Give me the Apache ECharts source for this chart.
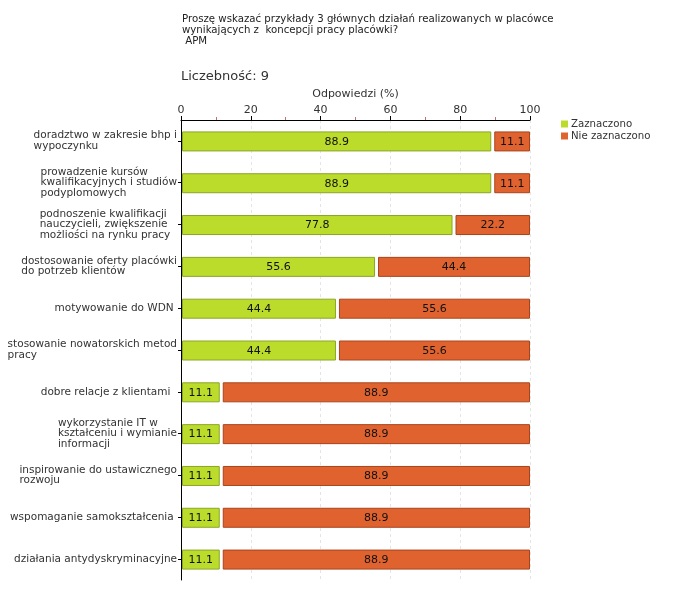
<!DOCTYPE html>
<html>
<head>
<meta charset="utf-8">
<script src="https://cdn.jsdelivr.net/npm/echarts@6/dist/echarts.min.js"></script>
<style>html,body{margin:0;padding:0;background:#fff}#c{width:680px;height:600px}</style>
</head>
<body>
<div id="c"></div>
<script>
const categories = [
  "doradztwo w zakresie bhp i\nwypoczynku",
  "prowadzenie kursów\nkwalifikacyjnych i studiów\npodyplomowych",
  "podnoszenie kwalifikacji\nnauczycieli, zwiększenie\nmożliości na rynku pracy  ",
  "dostosowanie oferty placówki\ndo potrzeb klientów",
  "motywowanie do WDN ",
  "stosowanie nowatorskich metod\npracy",
  "dobre relacje z klientami  ",
  "wykorzystanie IT w\nkształceniu i wymianie\ninformacji  ",
  "inspirowanie do ustawicznego\nrozwoju",
  "wspomaganie samokształcenia ",
  "działania antydyskryminacyjne"
];
const zaznaczono = [88.9, 88.9, 77.8, 55.6, 44.4, 44.4, 11.1, 11.1, 11.1, 11.1, 11.1];
const nieZaznaczono = [11.1, 11.1, 22.2, 44.4, 55.6, 55.6, 88.9, 88.9, 88.9, 88.9, 88.9];
const xTicks = [0, 20, 40, 60, 80, 100];

const FONT = '"DejaVu Sans", Verdana, sans-serif';
const chart = echarts.init(document.getElementById('c'));

function makeRender(fill, stroke, gapLeft) {
  return function (params, api) {
    const idx = api.value(0);
    const s = api.coord([api.value(1), idx]);
    const e = api.coord([api.value(2), idx]);
    const h = 19;
    const x0 = s[0] + gapLeft;
    const w = e[0] - x0;
    const y0 = s[1] - h / 2;
    return {
      type: 'group',
      children: [
        { type: 'rect', shape: { x: x0 + 0.5, y: y0 + 0.5, width: w - 1, height: h },
          style: { fill: fill, stroke: stroke, lineWidth: 1 } },
        { type: 'text', style: { text: api.value(3).toFixed(1), x: x0 + w / 2, y: s[1] + 1,
          align: 'center', verticalAlign: 'middle', font: '11px ' + FONT, fill: '#111' } }
      ]
    };
  };
}

const greenData = categories.map((c, i) => [i, 0, zaznaczono[i], zaznaczono[i]]);
const orangeData = categories.map((c, i) => [i, zaznaczono[i], zaznaczono[i] + nieZaznaczono[i], nieZaznaczono[i]]);

chart.setOption({
  animation: false,
  textStyle: { fontFamily: FONT },
  title: [
    { text: 'Proszę wskazać przykłady 3 głównych działań realizowanych w placówce\nwynikających z  koncepcji pracy placówki?\n APM',
      left: 182, top: 14, padding: 0,
      textStyle: { fontSize: 10.2, fontWeight: 'normal', color: '#222', lineHeight: 11, fontFamily: FONT } },
    { text: 'Liczebność: 9', left: 181, top: 70, padding: 0,
      textStyle: { fontSize: 13, fontWeight: 'normal', color: '#333', fontFamily: FONT } }
  ],
  legend: {
    orient: 'vertical', left: 561, top: 118, padding: 0, itemWidth: 7, itemHeight: 7, itemGap: 0,
    icon: 'rect',
    textStyle: { fontSize: 10.2, lineHeight: 12, color: '#333', fontFamily: FONT, padding: [0, 0, 0, -2] },
    data: ['Zaznaczono', 'Nie zaznaczono']
  },
  grid: { left: 181, right: 150, top: 120, bottom: 20, containLabel: false },
  xAxis: {
    type: 'value', position: 'top', min: 0, max: 100, interval: 20,
    name: 'Odpowiedzi (%)', nameLocation: 'middle', nameGap: 17,
    nameTextStyle: { fontSize: 11, color: '#333', fontFamily: FONT },
    axisLine: { show: true, lineStyle: { color: '#000', width: 1 } },
    axisTick: { show: true, length: 4, lineStyle: { color: '#000' } },
    minorTick: { show: true, splitNumber: 2, length: 3, lineStyle: { color: '#c87070' } },
    axisLabel: { fontSize: 11, color: '#333', margin: 4, fontFamily: FONT,
      customValues: xTicks },
    splitLine: { show: true, lineStyle: { color: '#e4e4e4', type: [3, 3] } }
  },
  yAxis: {
    type: 'category', inverse: true, data: categories,
    axisLine: { show: true, lineStyle: { color: '#000', width: 1 } },
    axisTick: { show: true, alignWithLabel: true, length: 3, lineStyle: { color: '#000' } },
    axisLabel: {
      margin: 4, color: '#333', fontSize: 10.5, lineHeight: 10.5, fontFamily: FONT,
      formatter: function (v) { return v.split('\n').map(l => '{a|' + l + '}').join('\n'); },
      rich: { a: { align: 'left', fontSize: 10.5, lineHeight: 10.5, color: '#333', fontFamily: FONT } }
    }
  },
  series: [
    { name: 'Zaznaczono', type: 'custom', itemStyle: { color: '#bcdc2c' },
      renderItem: makeRender('#bcdc2c', '#8aa626', 1), data: greenData,
      encode: { x: [1, 2], y: 0 } },
    { name: 'Nie zaznaczono', type: 'custom', itemStyle: { color: '#e0632f' },
      renderItem: makeRender('#e0632f', '#a8441c', 3), data: orangeData,
      encode: { x: [1, 2], y: 0 } }
  ]
});
</script>
</body>
</html>
